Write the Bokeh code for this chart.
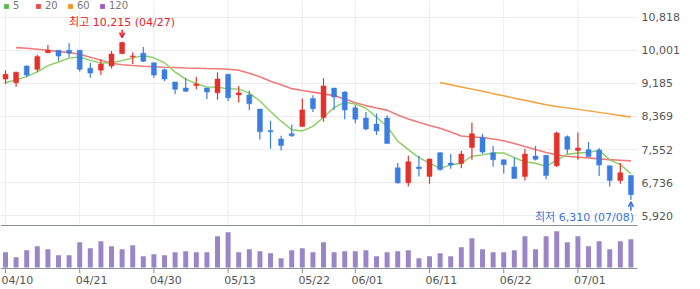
from bokeh.plotting import figure
from bokeh.models import (Range1d, FixedTicker, NumeralTickFormatter, ColumnDataSource,
                          Legend, LegendItem, Arrow, OpenHead, BoxAnnotation, Label)
from bokeh.core.properties import value
from bokeh.embed import file_html
from bokeh.resources import INLINE

nan = float("nan")

# ---- daily prices (KRW) ----
opens = [9290, 9200, 9610, 9530, 9940, 10000, 10000, 10000, 9560, 9510,
         9610, 9920, 9840, 9930, 9690, 9520, 9220, 9070, 9130, 9070,
         8950, 9410, 8900, 8900, 8550, 8020, 7810, 7940, 8120, 8810,
         8340, 9070, 8970, 8580, 8330, 8180, 8330, 7100, 6730, 7120,
         6890, 7470, 7220, 7210, 7600, 7850, 7470, 7300, 7120, 6890,
         7390, 7410, 7150, 7870, 7530, 7550, 7540, 7150, 6790, 6910]
highs = [9510, 9470, 9630, 9890, 10130, 10000, 10180, 10010, 9690, 9780,
         9980, 10215, 9950, 10080, 9690, 9550, 9220, 9320, 9340, 9070,
         9460, 9410, 9120, 9010, 8550, 8260, 7890, 8170, 8810, 8890,
         9310, 9070, 8990, 8650, 8480, 8440, 8400, 7220, 7400, 7400,
         7330, 7490, 7440, 7520, 8210, 7940, 7640, 7300, 7350, 7570,
         7640, 7410, 7990, 7900, 7970, 7740, 7590, 7150, 7220, 6910]
lows = [9170, 9100, 9340, 9470, 9930, 9740, 9830, 9480, 9320, 9390,
        9550, 9900, 9660, 9710, 9320, 9240, 8920, 8970, 9040, 8800,
        8780, 8750, 8710, 8530, 7800, 7570, 7530, 7870, 8120, 8480,
        8240, 8530, 8300, 8200, 8030, 7910, 7700, 6710, 6640, 6890,
        6710, 7030, 7080, 7090, 7300, 7440, 7130, 6960, 6840, 6790,
        7280, 6820, 7120, 7450, 7300, 7380, 6900, 6640, 6710, 6310]
closes = [9410, 9460, 9390, 9850, 10000, 9860, 9930, 9530, 9440, 9660,
          9910, 10190, 9860, 9730, 9390, 9290, 9040, 8990, 9170, 8970,
          9290, 8830, 8950, 8680, 7990, 7990, 7650, 7890, 8530, 8560,
          9120, 8850, 8530, 8300, 8060, 8010, 7700, 6730, 7250, 7080,
          7320, 7060, 7170, 7440, 7940, 7490, 7300, 7180, 6840, 7440,
          7310, 6910, 7960, 7560, 7590, 7380, 7170, 6790, 6980, 6440]
# volume, thousand shares
volume = [153, 103, 173, 213, 183, 123, 123, 253, 193, 263,
          213, 183, 223, 113, 133, 123, 153, 163, 153, 153,
          313, 353, 153, 183, 163, 143, 93, 173, 193, 153,
          253, 153, 163, 163, 173, 113, 153, 163, 173, 93,
          113, 143, 113, 203, 293, 183, 153, 153, 173, 313,
          183, 313, 363, 253, 313, 213, 263, 183, 263, 283]

# ---- moving averages ----
ma5 = [9200, 9270, 9350, 9470, 9622, 9712, 9806, 9834, 9752, 9684,
       9694, 9746, 9812, 9870, 9816, 9692, 9462, 9288, 9176, 9092,
       9092, 9050, 9042, 8944, 8748, 8488, 8252, 8040, 8010, 8124,
       8350, 8590, 8718, 8672, 8572, 8350, 8120, 7760, 7550, 7354,
       7216, 7088, 7176, 7214, 7386, 7420, 7468, 7470, 7350, 7250,
       7214, 7136, 7292, 7436, 7466, 7480, 7532, 7298, 7182, 6952]
ma20 = [nan, 10067, 10049, 10025, 10000, 9968, 9944, 9902, 9828, 9754,
        9681, 9644, 9624, 9607, 9595, 9582, 9575, 9565, 9558, 9550,
        9546, 9533, 9509, 9435, 9349, 9238, 9152, 9054, 9010, 8968,
        8926, 8882, 8796, 8705, 8636, 8575, 8525, 8403, 8304, 8223,
        8144, 8076, 7985, 7886, 7862, 7850, 7813, 7768, 7702, 7628,
        7555, 7481, 7419, 7387, 7363, 7346, 7321, 7304, 7289, 7272]
ma60 = [nan] * 41 + [9206, 9152, 9096, 9042, 8988, 8931, 8877, 8820, 8766, 8710,
                     8656, 8616, 8580, 8543, 8506, 8469, 8432, 8393, 8353]
ma120 = [nan] * 60

# ---- axis labels ----
date_ticks = [0, 7, 14, 21, 28, 33, 40, 47, 54]
date_labels = ["04/10", "04/21", "04/30", "05/13", "05/22", "06/01", "06/11", "06/22", "07/01"]
price_ticks = [5920, 6736, 7552, 8369, 9185, 10001, 10818]
high_date = "04/27"
low_date = "07/08"

# ---- colours ----
UP, DOWN = "#e3322b", "#3b7ee0"
VOL = "#9a86c6"
GRID = "#ececec"
TXT = "#555555"
RULE = "#8a8f95"
FONT = "'DejaVu Sans', 'Noto Sans CJK KR'"

# ---- geometry ----
W, H = 700, 289
FRAME_H = 274
Y_LO, Y_HI = 4494.6, 11228.4
PX = (Y_HI - Y_LO) / FRAME_H                # price units per pixel
PANEL_FLOOR = Y_LO + (FRAME_H - 225) * PX   # bottom edge of the price panel
VOL_LO, VOL_HI = -6, 268                    # volume axis (10 thousand shares per pixel)

n = len(closes)
xs = list(range(n))

p = figure(width=W, height=H, output_backend="svg", toolbar_location=None,
           x_range=Range1d(-0.472, 59.62), y_range=Range1d(Y_LO, Y_HI),
           y_axis_location="right", min_border_left=0, min_border_right=63,
           min_border_top=0, min_border_bottom=15, background_fill_color="white",
           border_fill_color="white")
p.outline_line_color = None
p.extra_y_ranges = {"vol": Range1d(VOL_LO, VOL_HI)}

# grid: horizontal from the price ticker, vertical only in the price panel
p.xgrid.visible = False
p.ygrid.ticker = FixedTicker(ticks=price_ticks)
p.ygrid.grid_line_color = GRID
p.segment(x0=date_ticks, y0=[Y_HI] * len(date_ticks), x1=date_ticks,
          y1=[PANEL_FLOOR] * len(date_ticks), line_color=GRID, line_width=1)

# price axis on the right
ya = p.yaxis[0]
ya.ticker = FixedTicker(ticks=price_ticks)
ya.formatter = NumeralTickFormatter(format="0,0")
ya.axis_line_color = None
ya.major_tick_out = 0
ya.major_tick_in = 0
ya.minor_tick_line_color = None
ya.major_label_standoff = 4
ya.major_label_text_font = FONT
ya.major_label_text_font_size = "11px"
ya.major_label_text_color = TXT

# date axis: labels sit just right of their tick marks
OFF = 1.125
xa = p.xaxis[0]
xa.ticker = FixedTicker(ticks=[t + OFF for t in date_ticks])
xa.major_label_overrides = {t + OFF: lab for t, lab in zip(date_ticks, date_labels)}
xa.axis_line_color = None
xa.major_tick_out = 0
xa.major_tick_in = 0
xa.minor_tick_line_color = None
xa.major_label_standoff = 0
xa.major_label_text_font = FONT
xa.major_label_text_font_size = "11px"
xa.major_label_text_color = TXT

# tick marks under the volume baseline
p.segment(x0=date_ticks, y0=[0] * len(date_ticks), x1=date_ticks,
          y1=[VOL_LO] * len(date_ticks), y_range_name="vol", line_color=RULE, line_width=1)

# panel separators (full width)
for top in (224.5, 267.5):
    p.add_layout(BoxAnnotation(left=0, right=W, top=top, bottom=top + 1,
                               left_units="canvas", right_units="canvas",
                               top_units="canvas", bottom_units="canvas",
                               fill_color=RULE, fill_alpha=1, line_color=None))

# volume bars
vol_r = p.vbar(x=xs, top=[v / 10 for v in volume], bottom=0, width=0.47,
               fill_color=VOL, line_color=None, y_range_name="vol")

# moving averages
p.line(xs, ma120, line_color="#9b59c8", line_width=1.5)
p.line(xs, ma60, line_color="#f5a03a", line_width=1.5)
p.line(xs, ma20, line_color="#f07a7a", line_width=1.6)
p.line(xs, ma5, line_color="#88cf62", line_width=1.4)

# candles
colors = [UP if c >= o else DOWN for o, c in zip(opens, closes)]
src = ColumnDataSource(dict(
    x=xs, high=highs, low=lows,
    top=[max(o, c) for o, c in zip(opens, closes)],
    bottom=[min(o, c) for o, c in zip(opens, closes)],
    color=colors))
p.segment(x0="x", y0="high", x1="x", y1="low", source=src, line_color="color", line_width=1.2)
p.vbar(x="x", top="top", bottom="bottom", width=0.47, source=src,
       fill_color="color", line_color="color", line_width=0.5)

# legend swatches for the moving averages
sw = []
for col in ["#56b947", "#ee4848", "#f7901e", "#9b59c8"]:
    sw.append(p.vbar(x=[nan], top=[nan], bottom=[nan], width=0.5,
                     fill_color=col, line_color=None))
leg = Legend(items=[LegendItem(label=l, renderers=[r]) for l, r in zip(["5", "20", "60", "120"], sw)],
             orientation="horizontal", location=(3, 262), glyph_width=6, glyph_height=6,
             label_standoff=4, label_width=22, label_height=0, spacing=0, padding=0, margin=0,
             border_line_color=None, background_fill_color="white", background_fill_alpha=1,
             label_text_font=FONT, label_text_font_size="10px", label_text_color="#777777")
p.add_layout(leg)

# volume key, to the right of the bars
p.add_layout(BoxAnnotation(left=652.5, right=655.5, top=234, bottom=243,
                           left_units="canvas", right_units="canvas",
                           top_units="canvas", bottom_units="canvas",
                           fill_color=VOL, fill_alpha=1, line_color=None))
p.add_layout(Label(x=658, y=238.5, x_units="canvas", y_units="canvas", text="거래량",
                   text_baseline="middle", text_align="left", text_font=FONT,
                   text_font_size="11px", text_color="#444444"))

# highest and lowest marks
hi_i = max(range(n), key=lambda i: highs[i])
lo_i = min(range(n), key=lambda i: lows[i])
hi, lo = highs[hi_i], lows[lo_i]
HI_C, LO_C = "#e8232d", "#3a74d6"

p.text(x=[hi_i], y=[hi], text=[f"최고 {hi:,} ({high_date})"], text_align="center",
       text_baseline="middle", y_offset=-19, text_font=value(FONT),
       text_font_size="11px", text_color=HI_C)
p.add_layout(Arrow(end=OpenHead(size=5, line_color=HI_C, line_width=1.5),
                   x_start=hi_i, y_start=hi + 12 * PX, x_end=hi_i, y_end=hi + 4 * PX,
                   line_color=HI_C, line_width=1.5))

p.text(x=[lo_i], y=[lo], text=[f"최저 {lo:,} ({low_date})"], text_align="right",
       text_baseline="middle", x_offset=3, y_offset=18, text_font=value(FONT),
       text_font_size="11px", text_color=LO_C)
p.add_layout(Arrow(end=OpenHead(size=5, line_color=LO_C, line_width=1.5),
                   x_start=lo_i, y_start=lo - 11 * PX, x_end=lo_i, y_end=lo - 2 * PX,
                   line_color=LO_C, line_width=1.5))

open("out.html", "w").write(file_html(p, INLINE))
